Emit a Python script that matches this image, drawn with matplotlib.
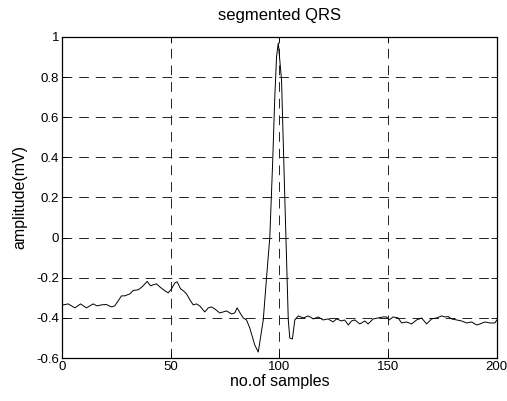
import matplotlib

matplotlib.use("Agg")

import matplotlib.pyplot as plt

# Segmented QRS trace (sample index, amplitude in mV)
samples = [
    0, 0.6, 2.9, 6, 8.6, 11.3, 14.4, 16.2, 18.1, 20.4, 22.8, 24.3, 25.9, 27.4, 28.9,
    31.3, 32.8, 35.1, 37.1, 39.2, 40.8, 42, 43.5, 45, 47.4, 48.9, 50.4, 52, 53,
    54.6, 55.9, 57.3, 58.9, 60.4, 61.9, 63.4, 65.7, 67.3, 68.8, 70.3, 72.6, 74.2,
    75.7, 78, 79.5, 80.6, 82.2, 83.4, 84.9, 86.4, 88.7, 90.3,
    92.6, 94.1, 95.6, 96.9, 97.9, 98.7, 99.5, 101, 102.5, 104.1, 104.8, 106,
    107.1, 108.7, 111, 113.3, 115.6, 117.9, 120.1, 122.4, 124.7, 126.3, 128.6,
    130, 131.7, 133.2, 134.7, 137, 139.3, 140.8, 143.1, 145.4, 147.7, 149.3,
    150.5, 152.3, 154.6, 156.2, 158.5, 160.8, 163.1, 165.4, 167.7, 170, 172.3,
    174.6, 176.1, 177.6, 179.2, 181.5, 183.8, 186.1, 188.4, 190.7, 192.2, 194.5,
    196.8, 199.1, 200,
]
amplitude = [
    -0.34, -0.335, -0.33, -0.35, -0.33, -0.35, -0.33, -0.34, -0.335, -0.333, -0.345,
    -0.34, -0.315, -0.29, -0.29, -0.28, -0.263, -0.26, -0.243, -0.218, -0.24,
    -0.235, -0.23, -0.245, -0.265, -0.275, -0.255, -0.225, -0.22, -0.255, -0.265,
    -0.28, -0.31, -0.335, -0.33, -0.34, -0.37, -0.35, -0.345, -0.355, -0.375,
    -0.37, -0.365, -0.38, -0.375, -0.35, -0.38, -0.40, -0.41, -0.45, -0.535, -0.57,
    -0.41, -0.2, 0.0, 0.37, 0.70, 0.90, 0.97, 0.785, 0.2, -0.41, -0.50, -0.505,
    -0.41, -0.39, -0.40, -0.39, -0.405, -0.395, -0.41, -0.405, -0.42, -0.405,
    -0.415, -0.41, -0.435, -0.415, -0.41, -0.43, -0.415, -0.43, -0.405, -0.40,
    -0.395, -0.395, -0.41, -0.395, -0.40, -0.425, -0.42, -0.43, -0.41, -0.40,
    -0.43, -0.405, -0.40, -0.39, -0.395, -0.393, -0.405, -0.41, -0.415, -0.425,
    -0.42, -0.435, -0.43, -0.42, -0.425, -0.425, -0.41,
]
x_ticks = [0, 50, 100, 150, 200]
y_ticks = [-0.6, -0.4, -0.2, 0, 0.2, 0.4, 0.6, 0.8, 1]
y_tick_labels = ["-0.6", "-0.4", "-0.2", "0", "0.2", "0.4", "0.6", "0.8", "1"]

plt.rcParams["font.family"] = ["Liberation Sans", "DejaVu Sans"]
plt.rcParams["lines.scale_dashes"] = False

fig = plt.figure(figsize=(5.07, 4.01), dpi=100)
axis = fig.add_axes([0.122, 0.107, 0.858, 0.801])
axis.plot(samples, amplitude, color="black", linewidth=0.7)
axis.set_xlim(0, 200)
axis.set_ylim(-0.6, 1.0)
axis.set_xticks(x_ticks)
axis.set_yticks(y_ticks)
axis.set_yticklabels(y_tick_labels)
axis.tick_params(direction="in", length=4, width=0.6, top=True, right=True, labelsize=9.5, pad=2)
axis.grid(True, color="#222222", linewidth=0.7, linestyle=(0, (7, 5)))
for spine in axis.spines.values():
    spine.set_linewidth(0.9)
axis.set_title("segmented QRS", fontsize=12, pad=12)
axis.set_xlabel("no.of samples", fontsize=11.5, labelpad=1)
axis.set_ylabel("amplitude(mV)", fontsize=11.5, labelpad=6)
fig.savefig("out.png", dpi=100)
